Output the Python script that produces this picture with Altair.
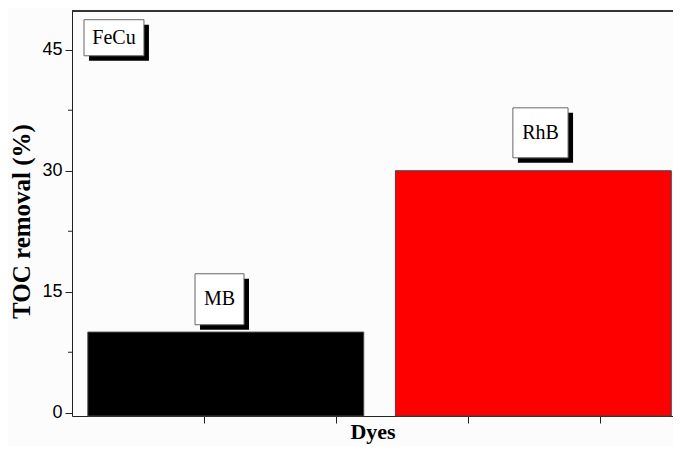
import altair as alt
import pandas as pd

# Bars
dyes = ["MB", "RhB"]
toc_removal = [10, 30]
bar_start = [0.12, 2.45]
bar_end = [2.21, 4.54]
bar_colors = ["#000000", "#ff0000"]

# Boxed labels (data coordinates)
label_text = ["FeCu", "MB", "RhB"]
box_x0 = [0.091, 0.932, 3.34]
box_x1 = [0.545, 1.303, 3.758]
box_y0 = [44.25, 10.91, 31.6]
box_y1 = [48.72, 17.23, 37.8]

y_major = [0, 15, 30, 45]
y_minor = [7.5, 22.5, 37.5]
x_ticks = [1, 2, 3, 4]

W, H = 601, 405
X_DOMAIN = [0, 4.553]
Y_DOMAIN = [-0.4, 49.8]
Y_BASE = Y_DOMAIN[0]

bars = pd.DataFrame({
    "dye": dyes, "toc": toc_removal, "x0": bar_start, "x1": bar_end,
    "base": [Y_BASE] * len(dyes), "color": bar_colors,
})
labels = pd.DataFrame({
    "text": label_text, "x0": box_x0, "x1": box_x1, "y0": box_y0, "y1": box_y1,
})
labels["xc"] = (labels["x0"] + labels["x1"]) / 2
labels["yc"] = (labels["y0"] + labels["y1"]) / 2
minor = pd.DataFrame({"v": y_minor})

xscale = alt.Scale(domain=X_DOMAIN, nice=False, zero=False)
yscale = alt.Scale(domain=Y_DOMAIN, nice=False, zero=False)

x_axis = alt.Axis(
    values=x_ticks, labels=False, grid=False, tickSize=7, tickColor="#222",
    domainColor="#222", title="Dyes", titleFont="Liberation Serif",
    titleFontSize=22, titleFontWeight="bold", titleColor="#000",
    titleBaseline="alphabetic", titlePadding=15,
)
y_axis = alt.Axis(
    values=y_major, grid=False, tickSize=7, tickColor="#222", domainColor="#222",
    labelFont="Liberation Sans", labelFontSize=18, labelColor="#000", labelPadding=3,
    title="TOC removal (%)", titleFont="Liberation Serif", titleFontSize=25,
    titleFontWeight="bold", titleColor="#000", titlePadding=7, titleY=210,
)

bar_layer = alt.Chart(bars).mark_rect(stroke="#444", strokeWidth=1).encode(
    x=alt.X("x0:Q", scale=xscale, axis=x_axis),
    x2="x1:Q",
    y=alt.Y("base:Q", scale=yscale, axis=y_axis),
    y2="toc:Q",
    color=alt.Color("color:N", scale=None, legend=None),
)

minor_ticks = alt.Chart(minor).mark_rule(color="#222", strokeWidth=1).encode(
    y=alt.Y("v:Q", scale=yscale),
    x=alt.value(-4),
    x2=alt.value(0),
)

top_frame = alt.Chart(minor).mark_rule(color="#333", strokeWidth=1.5).encode(
    x=alt.value(0), x2=alt.value(W), y=alt.value(0),
)

shadow = alt.Chart(labels).mark_rect(
    fill="#000", xOffset=5, x2Offset=5, yOffset=5, y2Offset=5
).encode(
    x=alt.X("x0:Q", scale=xscale), x2="x1:Q",
    y=alt.Y("y0:Q", scale=yscale), y2="y1:Q",
)
box = alt.Chart(labels).mark_rect(fill="#fff", stroke="#666", strokeWidth=1).encode(
    x=alt.X("x0:Q", scale=xscale), x2="x1:Q",
    y=alt.Y("y0:Q", scale=yscale), y2="y1:Q",
)
text = alt.Chart(labels).mark_text(
    font="Liberation Serif", fontSize=20, color="#000", align="center", baseline="middle"
).encode(
    x=alt.X("xc:Q", scale=xscale),
    y=alt.Y("yc:Q", scale=yscale),
    text="text:N",
)

chart = alt.layer(bar_layer, minor_ticks, top_frame, shadow, box, text).properties(
    width=W, height=H,
    autosize=alt.AutoSizeParams(type="none"),
    padding={"left": 64, "top": 3, "right": 0, "bottom": 30},
).configure_view(
    strokeWidth=0
).configure(background="#fcfcfc")

chart.save("out.html", embed_options={"renderer": "svg", "actions": False})
